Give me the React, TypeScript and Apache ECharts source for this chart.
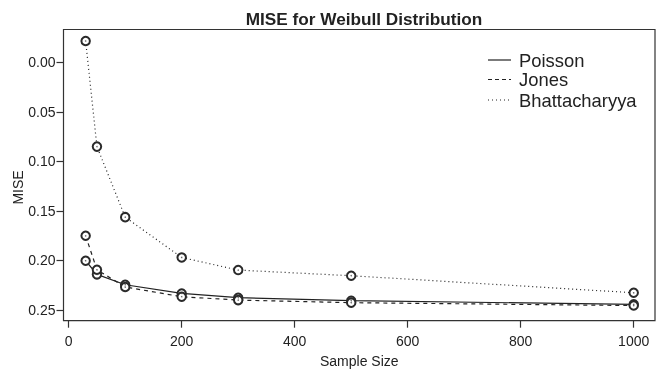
import React, { useEffect, useRef } from "react";
import * as echarts from "echarts";

const sampleSizes = [30, 50, 100, 200, 300, 500, 1000];
const poisson = [0.2003, 0.214, 0.2245, 0.2333, 0.2376, 0.2406, 0.2443];
const jones = [0.1751, 0.2094, 0.2268, 0.2366, 0.24, 0.2426, 0.2455];
const bhattacharyya = [-0.0215, 0.0851, 0.1563, 0.197, 0.2097, 0.2154, 0.2326];
const xTicks = [0, 200, 400, 600, 800, 1000];
const yTicks = [0, 0.05, 0.1, 0.15, 0.2, 0.25];
const seriesNames = ["Poisson", "Jones", "Bhattacharyya"];

const FONT = "'Liberation Sans', Arial, Helvetica, sans-serif";
const INK = "#222";

export default function App() {
  const ref = useRef<HTMLDivElement>(null);
  useEffect(() => {
    if (!ref.current) return;
    const chart = echarts.init(ref.current, null, { renderer: "svg" });
    const pairs = (ys: number[]) => sampleSizes.map((x, i) => [x, ys[i]]);
    const lineTypes: any[] = ["solid", [4, 4], [1, 3]];
    const datasets = [poisson, jones, bhattacharyya];
    const series: any[] = [];
    datasets.forEach((d, i) => {
      series.push({
        name: seriesNames[i],
        type: "line",
        data: pairs(d),
        symbol: "emptyCircle",
        symbolSize: 8.5,
        showAllSymbol: true,
        lineStyle: { color: "#222", width: 1.2, type: lineTypes[i] },
        itemStyle: { color: "#2a2a2a", borderColor: "#2a2a2a", borderWidth: 0.9 },
        z: 2,
      });
      series.push({
        name: seriesNames[i] + "-dot",
        type: "scatter",
        data: pairs(d),
        symbol: "circle",
        symbolSize: 1.5,
        itemStyle: { color: "#444" },
        silent: true,
        z: 3,
      });
    });
    const legendRows = [60, 79.5, 100];
    const legendDash: any[] = [null, [4, 3], [1, 3]];
    const graphic: any[] = [];
    seriesNames.forEach((n, i) => {
      graphic.push({
        type: "line",
        shape: { x1: 488, y1: legendRows[i], x2: 511, y2: legendRows[i] },
        style: { stroke: "#222", lineWidth: 1.2, lineDash: legendDash[i] || undefined },
      });
      graphic.push({
        type: "text",
        x: 519,
        y: legendRows[i],
        style: { text: n, fill: INK, font: `18.4px ${FONT}`, textVerticalAlign: "middle", textAlign: "left" },
      });
    });
    graphic.push({
      type: "text",
      x: 17.5,
      y: 187.5,
      rotation: Math.PI / 2,
      style: { text: "MISE", fill: INK, font: `14px ${FONT}`, textAlign: "center", textVerticalAlign: "middle" },
    });
    chart.setOption({
      animation: false,
      title: {
        text: "MISE for Weibull Distribution",
        left: 359,
        textAlign: "center",
        top: 5,
        textStyle: { fontFamily: FONT, fontWeight: "bold", fontSize: 17.2, color: INK },
      },
      grid: {
        left: 63.5,
        right: 3,
        top: 29.5,
        bottom: 50.3,
        show: true,
        borderColor: "#333",
        borderWidth: 1.2,
        containLabel: false,
        outerBoundsMode: "none",
      },
      xAxis: {
        type: "value",
        min: -9.2,
        max: 1037.7,
        name: "Sample Size",
        nameLocation: "middle",
        nameGap: 33,
        nameMoveOverlap: false,
        nameTextStyle: { fontFamily: FONT, fontSize: 14, color: INK },
        axisLine: { show: false, onZero: false },
        axisTick: { show: true, inside: false, length: 7, customValues: xTicks, lineStyle: { color: "#333", width: 1.2 } },
        axisLabel: {
          customValues: xTicks,
          margin: 13,
          fontFamily: FONT,
          fontSize: 14,
          color: INK,
          formatter: (v: number) => String(v),
        },
        splitLine: { show: false },
      },
      yAxis: {
        type: "value",
        inverse: true,
        min: -0.0331,
        max: 0.2608,
        axisLine: { show: false, onZero: false },
        axisTick: { show: true, inside: false, length: 7, customValues: yTicks, lineStyle: { color: "#333", width: 1.2 } },
        axisLabel: {
          customValues: yTicks,
          margin: 8,
          fontFamily: FONT,
          fontSize: 14,
          color: INK,
          formatter: (v: number) => v.toFixed(2),
        },
        splitLine: { show: false },
      },
      series,
      graphic,
    });
    return () => chart.dispose();
  }, []);
  return <div ref={ref} style={{ position: "fixed", left: 0, top: 0, width: 658, height: 371 }} />;
}
